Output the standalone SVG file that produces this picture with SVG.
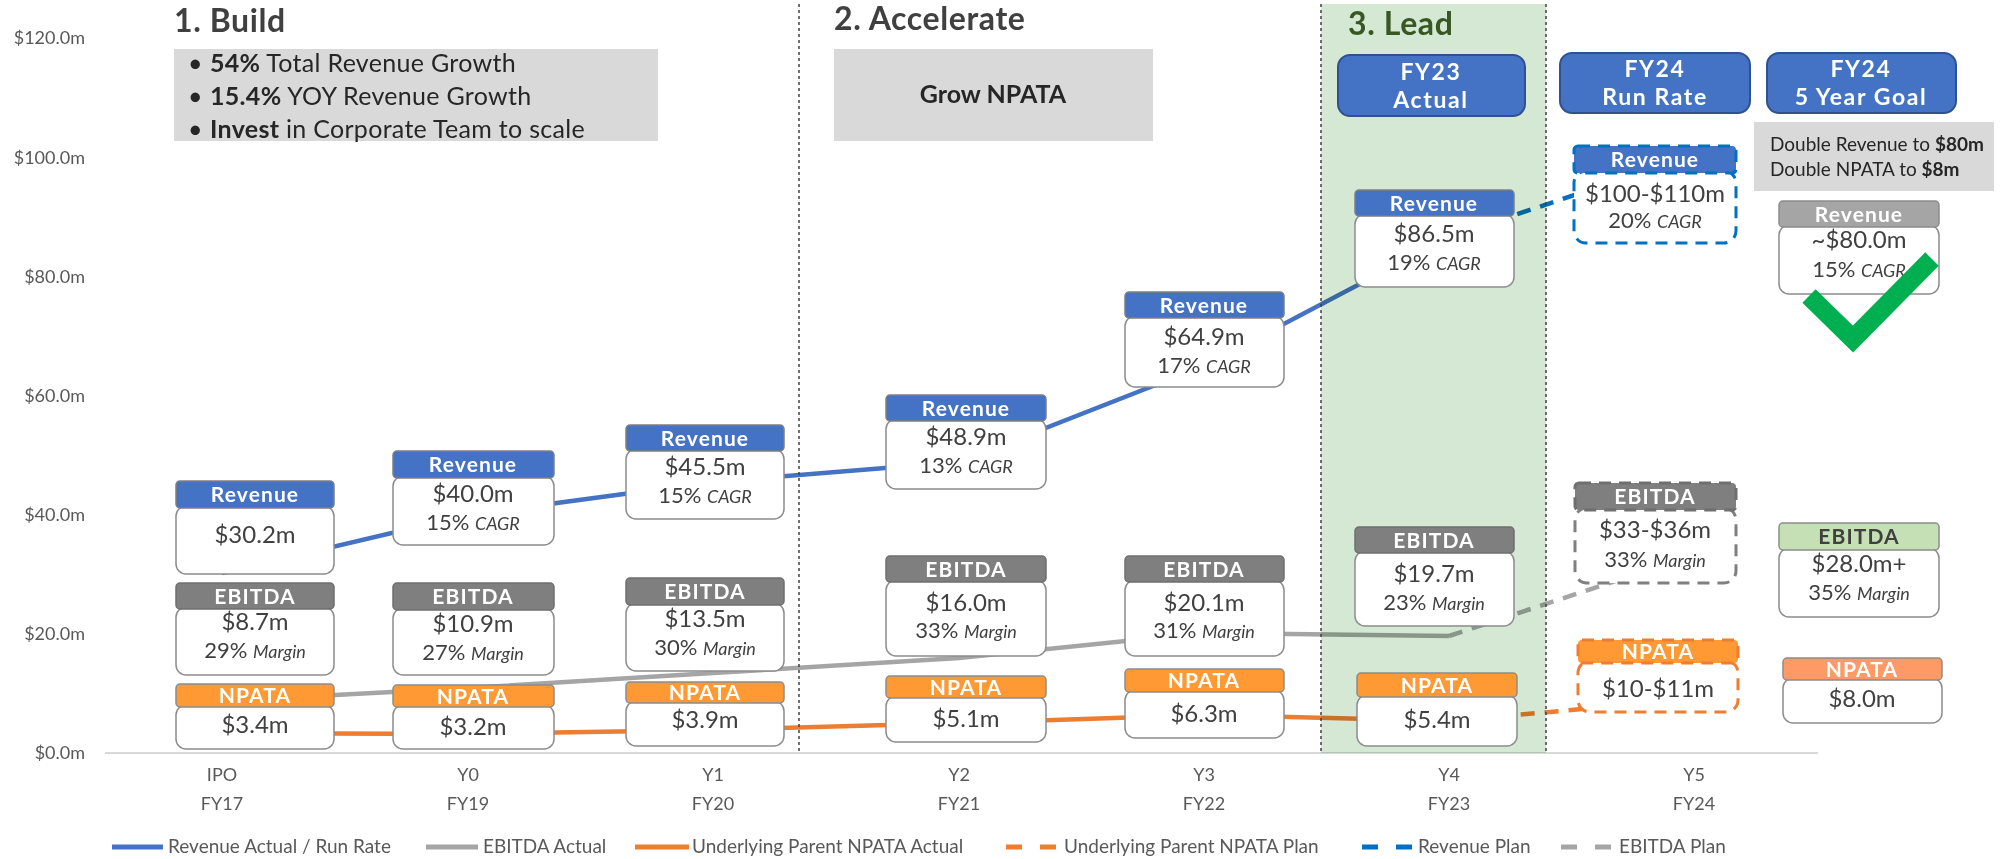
<svg xmlns="http://www.w3.org/2000/svg" width="2000" height="859" viewBox="0 0 2000 859">
<style>
text{font-family:Lato,"Open Sans","Liberation Sans",sans-serif}
.axr{font-size:18px;fill:#595959;text-anchor:end}
.cat{font-size:18px;fill:#595959;text-anchor:middle}
.lg{font-size:19px;fill:#595959}
.ttl{font-size:32px;font-weight:700;fill:#404040;letter-spacing:0.6px}
.hdr{font-size:21px;font-weight:700;fill:#fff;text-anchor:middle;letter-spacing:1.1px}
.hdrd{font-size:21px;font-weight:700;fill:#404040;text-anchor:middle;letter-spacing:1.1px}
.val{font-size:24px;fill:#404040;text-anchor:middle}
.sub{font-size:22px;fill:#404040;text-anchor:middle}
.it{font-style:italic;font-size:18px}
.top{font-size:23px;font-weight:700;fill:#fff;text-anchor:middle;letter-spacing:1.6px}
.bul{font-size:25px;fill:#262626;letter-spacing:0.3px}
.note{font-size:19px;fill:#262626}
.b{font-weight:700}
.body{fill:#fff;stroke:#8c8c8c;stroke-width:1.5}
.hR{fill:#4472c4;stroke:#7f7f7f;stroke-width:1.5}
.hE{fill:#7f7f7f;stroke:#6f6f6f;stroke-width:1.5}
.hN{fill:#ff9933;stroke:#8c8c8c;stroke-width:1.5}
.topbox{fill:#4472c4;stroke:#2f528f;stroke-width:2}
.ln{fill:none;stroke-width:4.5;stroke-linejoin:round}
.dash{stroke-dasharray:14 10}
.div{stroke:#404040;stroke-width:1.5;stroke-dasharray:3 3}
</style>

<!-- axis -->
<g id="axis">
<line x1="105" y1="753" x2="1818" y2="753" stroke="#d9d9d9" stroke-width="2"/>
<text class="axr" x="85" y="44">$120.0m</text>
<text class="axr" x="85" y="164">$100.0m</text>
<text class="axr" x="85" y="283">$80.0m</text>
<text class="axr" x="85" y="402">$60.0m</text>
<text class="axr" x="85" y="521">$40.0m</text>
<text class="axr" x="85" y="640">$20.0m</text>
<text class="axr" x="85" y="759">$0.0m</text>
<text class="cat" x="222" y="781">IPO</text><text class="cat" x="222" y="810">FY17</text>
<text class="cat" x="468" y="781">Y0</text><text class="cat" x="468" y="810">FY19</text>
<text class="cat" x="713" y="781">Y1</text><text class="cat" x="713" y="810">FY20</text>
<text class="cat" x="959" y="781">Y2</text><text class="cat" x="959" y="810">FY21</text>
<text class="cat" x="1204" y="781">Y3</text><text class="cat" x="1204" y="810">FY22</text>
<text class="cat" x="1449" y="781">Y4</text><text class="cat" x="1449" y="810">FY23</text>
<text class="cat" x="1694" y="781">Y5</text><text class="cat" x="1694" y="810">FY24</text>
</g>

<!-- connectors -->
<g id="connectors">
<polyline class="ln" stroke="#4472c4" points="222,573 468,515 713,482 959,462 1204,366 1449,237"/>
<polyline class="ln" stroke="#a5a5a5" points="222,701 468,688 713,673 959,658 1204,633 1449,636"/>
<polyline class="ln" stroke="#ed7d31" points="222,733 468,734 713,730 959,723 1204,715 1449,721"/>
<line class="ln dash" stroke="#0070c0" x1="1449" y1="237" x2="1694" y2="155"/>
<line class="ln dash" stroke="#a5a5a5" x1="1449" y1="636" x2="1694" y2="555"/>
<line class="ln dash" stroke="#ed7d31" x1="1449" y1="721" x2="1694" y2="699"/>
</g>

<!-- phases -->
<g id="phase-lead-band">
<rect x="1321" y="4" width="225" height="749" fill="#d5e8d4" style="mix-blend-mode:multiply"/>
<line class="div" x1="1321" y1="4" x2="1321" y2="753"/>
<line class="div" x1="1546" y1="4" x2="1546" y2="753"/>
</g>
<line class="div" x1="799" y1="4" x2="799" y2="753"/>

<g id="phase-build">
<text class="ttl" x="174" y="32">1. Build</text>
<rect x="174" y="49" width="484" height="92" fill="#d9d9d9"/>
<text class="bul" x="188" y="72">•</text><text class="bul" x="210" y="72"><tspan class="b">54%</tspan> Total Revenue Growth</text>
<text class="bul" x="188" y="105">•</text><text class="bul" x="210" y="105"><tspan class="b">15.4%</tspan> YOY Revenue Growth</text>
<text class="bul" x="188" y="138">•</text><text class="bul" x="210" y="138"><tspan class="b">Invest</tspan> in Corporate Team to scale</text>
</g>
<g id="phase-accelerate">
<text class="ttl" x="834" y="30">2. Accelerate</text>
<rect x="834" y="49" width="319" height="92" fill="#d9d9d9"/>
<text x="993" y="103" text-anchor="middle" font-size="25" font-weight="700" fill="#262626">Grow NPATA</text>
</g>
<g id="phase-lead">
<text class="ttl" x="1348" y="35" style="fill:#385723">3. Lead</text>
</g>

<g id="hdr-fy23-actual">
<rect class="topbox" x="1338" y="55" width="187" height="61" rx="12"/>
<text class="top" x="1431" y="80">FY23</text><text class="top" x="1431" y="108">Actual</text>
</g>
<g id="hdr-fy24-runrate">
<rect class="topbox" x="1560" y="53" width="190" height="60" rx="12"/>
<text class="top" x="1655" y="77">FY24</text><text class="top" x="1655" y="105">Run Rate</text>
</g>
<g id="hdr-fy24-goal">
<rect class="topbox" x="1767" y="53" width="189" height="60" rx="12"/>
<text class="top" x="1861" y="77">FY24</text><text class="top" x="1861" y="105">5 Year Goal</text>
</g>
<g id="goal-note">
<rect x="1754" y="122" width="240" height="69" fill="#d9d9d9"/>
<text class="note" x="1770" y="151">Double Revenue to <tspan class="b">$80m</tspan></text>
<text class="note" x="1770" y="176">Double NPATA to <tspan class="b">$8m</tspan></text>
</g>

<!-- IPO FY17 -->
<g id="rev-fy17"><rect class="body" x="176" y="506" width="158" height="68" rx="10"/><rect class="hR" x="176" y="481" width="158" height="27" rx="4"/>
<text class="hdr" x="255" y="502">Revenue</text><text class="val" x="255" y="543">$30.2m</text></g>
<g id="ebitda-fy17"><rect class="body" x="176" y="607" width="158" height="68" rx="10"/><rect class="hE" x="176" y="583" width="158" height="26" rx="4"/>
<text class="hdr" x="255" y="604">EBITDA</text><text class="val" x="255" y="630">$8.7m</text><text class="sub" x="255" y="658">29% <tspan class="it">Margin</tspan></text></g>
<g id="npata-fy17"><rect class="body" x="176" y="705" width="158" height="44" rx="10"/><rect class="hN" x="176" y="684" width="158" height="23" rx="4"/>
<text class="hdr" x="255" y="703">NPATA</text><text class="val" x="255" y="733">$3.4m</text></g>

<!-- Y0 FY19 -->
<g id="rev-fy19"><rect class="body" x="393" y="476" width="161" height="69" rx="10"/><rect class="hR" x="393" y="451" width="161" height="27" rx="4"/>
<text class="hdr" x="473" y="472">Revenue</text><text class="val" x="473" y="502">$40.0m</text><text class="sub" x="473" y="530">15% <tspan class="it">CAGR</tspan></text></g>
<g id="ebitda-fy19"><rect class="body" x="393" y="608" width="161" height="67" rx="10"/><rect class="hE" x="393" y="583" width="161" height="27" rx="4"/>
<text class="hdr" x="473" y="604">EBITDA</text><text class="val" x="473" y="632">$10.9m</text><text class="sub" x="473" y="660">27% <tspan class="it">Margin</tspan></text></g>
<g id="npata-fy19"><rect class="body" x="393" y="705" width="161" height="44" rx="10"/><rect class="hN" x="393" y="685" width="161" height="22" rx="4"/>
<text class="hdr" x="473" y="704">NPATA</text><text class="val" x="473" y="735">$3.2m</text></g>

<!-- Y1 FY20 -->
<g id="rev-fy20"><rect class="body" x="626" y="449" width="158" height="70" rx="10"/><rect class="hR" x="626" y="425" width="158" height="26" rx="4"/>
<text class="hdr" x="705" y="446">Revenue</text><text class="val" x="705" y="475">$45.5m</text><text class="sub" x="705" y="503">15% <tspan class="it">CAGR</tspan></text></g>
<g id="ebitda-fy20"><rect class="body" x="626" y="603" width="158" height="68" rx="10"/><rect class="hE" x="626" y="578" width="158" height="27" rx="4"/>
<text class="hdr" x="705" y="599">EBITDA</text><text class="val" x="705" y="627">$13.5m</text><text class="sub" x="705" y="655">30% <tspan class="it">Margin</tspan></text></g>
<g id="npata-fy20"><rect class="body" x="626" y="701" width="158" height="45" rx="10"/><rect class="hN" x="626" y="682" width="158" height="21" rx="4"/>
<text class="hdr" x="705" y="700">NPATA</text><text class="val" x="705" y="728">$3.9m</text></g>

<!-- Y2 FY21 -->
<g id="rev-fy21"><rect class="body" x="886" y="419" width="160" height="70" rx="10"/><rect class="hR" x="886" y="395" width="160" height="26" rx="4"/>
<text class="hdr" x="966" y="416">Revenue</text><text class="val" x="966" y="445">$48.9m</text><text class="sub" x="966" y="473">13% <tspan class="it">CAGR</tspan></text></g>
<g id="ebitda-fy21"><rect class="body" x="886" y="580" width="160" height="76" rx="10"/><rect class="hE" x="886" y="556" width="160" height="26" rx="4"/>
<text class="hdr" x="966" y="577">EBITDA</text><text class="val" x="966" y="611">$16.0m</text><text class="sub" x="966" y="638">33% <tspan class="it">Margin</tspan></text></g>
<g id="npata-fy21"><rect class="body" x="886" y="696" width="160" height="46" rx="10"/><rect class="hN" x="886" y="676" width="160" height="22" rx="4"/>
<text class="hdr" x="966" y="695">NPATA</text><text class="val" x="966" y="727">$5.1m</text></g>

<!-- Y3 FY22 -->
<g id="rev-fy22"><rect class="body" x="1125" y="316" width="159" height="71" rx="10"/><rect class="hR" x="1125" y="292" width="159" height="26" rx="4"/>
<text class="hdr" x="1204" y="313">Revenue</text><text class="val" x="1204" y="345">$64.9m</text><text class="sub" x="1204" y="373">17% <tspan class="it">CAGR</tspan></text></g>
<g id="ebitda-fy22"><rect class="body" x="1125" y="580" width="159" height="76" rx="10"/><rect class="hE" x="1125" y="556" width="159" height="26" rx="4"/>
<text class="hdr" x="1204" y="577">EBITDA</text><text class="val" x="1204" y="611">$20.1m</text><text class="sub" x="1204" y="638">31% <tspan class="it">Margin</tspan></text></g>
<g id="npata-fy22"><rect class="body" x="1125" y="690" width="159" height="48" rx="10"/><rect class="hN" x="1125" y="669" width="159" height="23" rx="4"/>
<text class="hdr" x="1204" y="688">NPATA</text><text class="val" x="1204" y="722">$6.3m</text></g>

<!-- Y4 FY23 -->
<g id="rev-fy23"><rect class="body" x="1355" y="214" width="159" height="73" rx="10"/><rect class="hR" x="1355" y="190" width="159" height="26" rx="4"/>
<text class="hdr" x="1434" y="211">Revenue</text><text class="val" x="1434" y="242">$86.5m</text><text class="sub" x="1434" y="270">19% <tspan class="it">CAGR</tspan></text></g>
<g id="ebitda-fy23"><rect class="body" x="1355" y="551" width="159" height="75" rx="10"/><rect class="hE" x="1355" y="527" width="159" height="26" rx="4"/>
<text class="hdr" x="1434" y="548">EBITDA</text><text class="val" x="1434" y="582">$19.7m</text><text class="sub" x="1434" y="610">23% <tspan class="it">Margin</tspan></text></g>
<g id="npata-fy23"><rect class="body" x="1357" y="695" width="160" height="51" rx="10"/><rect class="hN" x="1357" y="673" width="160" height="24" rx="4"/>
<text class="hdr" x="1437" y="693">NPATA</text><text class="val" x="1437" y="728">$5.4m</text></g>

<!-- Y5 FY24 run rate (plan) -->
<g id="rev-fy24-plan"><rect x="1574" y="171" width="162" height="72" rx="12" fill="#fff" stroke="#0070c0" stroke-width="3" stroke-dasharray="12 8"/><rect x="1574" y="146" width="162" height="27" rx="4" fill="#4472c4" stroke="#0070c0" stroke-width="3" stroke-dasharray="12 8"/>
<text class="hdr" x="1655" y="167">Revenue</text><text class="val" x="1655" y="202">$100-$110m</text><text class="sub" x="1655" y="228">20% <tspan class="it">CAGR</tspan></text></g>
<g id="ebitda-fy24-plan"><rect x="1575" y="508" width="161" height="75" rx="12" fill="#fff" stroke="#7f7f7f" stroke-width="3" stroke-dasharray="12 8"/><rect x="1575" y="483" width="161" height="27" rx="4" fill="#7f7f7f" stroke="#6f6f6f" stroke-width="3" stroke-dasharray="12 8"/>
<text class="hdr" x="1655" y="504">EBITDA</text><text class="val" x="1655" y="538">$33-$36m</text><text class="sub" x="1655" y="567">33% <tspan class="it">Margin</tspan></text></g>
<g id="npata-fy24-plan"><rect x="1578" y="661" width="160" height="51" rx="12" fill="#fff" stroke="#ed7d31" stroke-width="3" stroke-dasharray="12 8"/><rect x="1578" y="640" width="160" height="23" rx="4" fill="#ff9933" stroke="#ed7d31" stroke-width="3" stroke-dasharray="12 8"/>
<text class="hdr" x="1658" y="659">NPATA</text><text class="val" x="1658" y="697">$10-$11m</text></g>

<!-- 5 year goal -->
<g id="rev-goal"><rect class="body" x="1779" y="225" width="160" height="69" rx="10"/><rect x="1779" y="201" width="160" height="26" rx="4" fill="#a5a5a5" stroke="#8c8c8c" stroke-width="1.5"/>
<text class="hdr" x="1859" y="222">Revenue</text><text class="val" x="1859" y="248">~$80.0m</text><text class="sub" x="1859" y="277">15% <tspan class="it">CAGR</tspan></text></g>
<g id="ebitda-goal"><rect class="body" x="1779" y="548" width="160" height="69" rx="10"/><rect x="1779" y="523" width="160" height="27" rx="4" fill="#c5e0b4" stroke="#8c8c8c" stroke-width="1.5"/>
<text class="hdrd" x="1859" y="544">EBITDA</text><text class="val" x="1859" y="572">$28.0m+</text><text class="sub" x="1859" y="600">35% <tspan class="it">Margin</tspan></text></g>
<g id="npata-goal"><rect class="body" x="1783" y="678" width="159" height="45" rx="10"/><rect x="1783" y="658" width="159" height="22" rx="4" fill="#ff9966" stroke="#8c8c8c" stroke-width="1.5"/>
<text class="hdr" x="1862" y="677">NPATA</text><text class="val" x="1862" y="707">$8.0m</text></g>
<g id="goal-check"><polyline points="1809,296 1853,339 1932,259" fill="none" stroke="#00b050" stroke-width="19"/></g>

<!-- legend -->
<g id="legend">
<line x1="112" y1="847" x2="163" y2="847" stroke="#4472c4" stroke-width="5"/><text class="lg" x="168" y="853">Revenue Actual / Run Rate</text>
<line x1="426" y1="847" x2="478" y2="847" stroke="#a5a5a5" stroke-width="5"/><text class="lg" x="483" y="853">EBITDA Actual</text>
<line x1="635" y1="847" x2="689" y2="847" stroke="#ed7d31" stroke-width="5"/><text class="lg" x="692" y="853">Underlying Parent NPATA Actual</text>
<line x1="1006" y1="847" x2="1058" y2="847" stroke="#ed7d31" stroke-width="5" stroke-dasharray="16 18"/><text class="lg" x="1064" y="853">Underlying Parent NPATA Plan</text>
<line x1="1362" y1="847" x2="1412" y2="847" stroke="#0070c0" stroke-width="5" stroke-dasharray="16 18"/><text class="lg" x="1418" y="853">Revenue Plan</text>
<line x1="1561" y1="847" x2="1612" y2="847" stroke="#a5a5a5" stroke-width="5" stroke-dasharray="16 18"/><text class="lg" x="1619" y="853">EBITDA Plan</text>
</g>
</svg>
